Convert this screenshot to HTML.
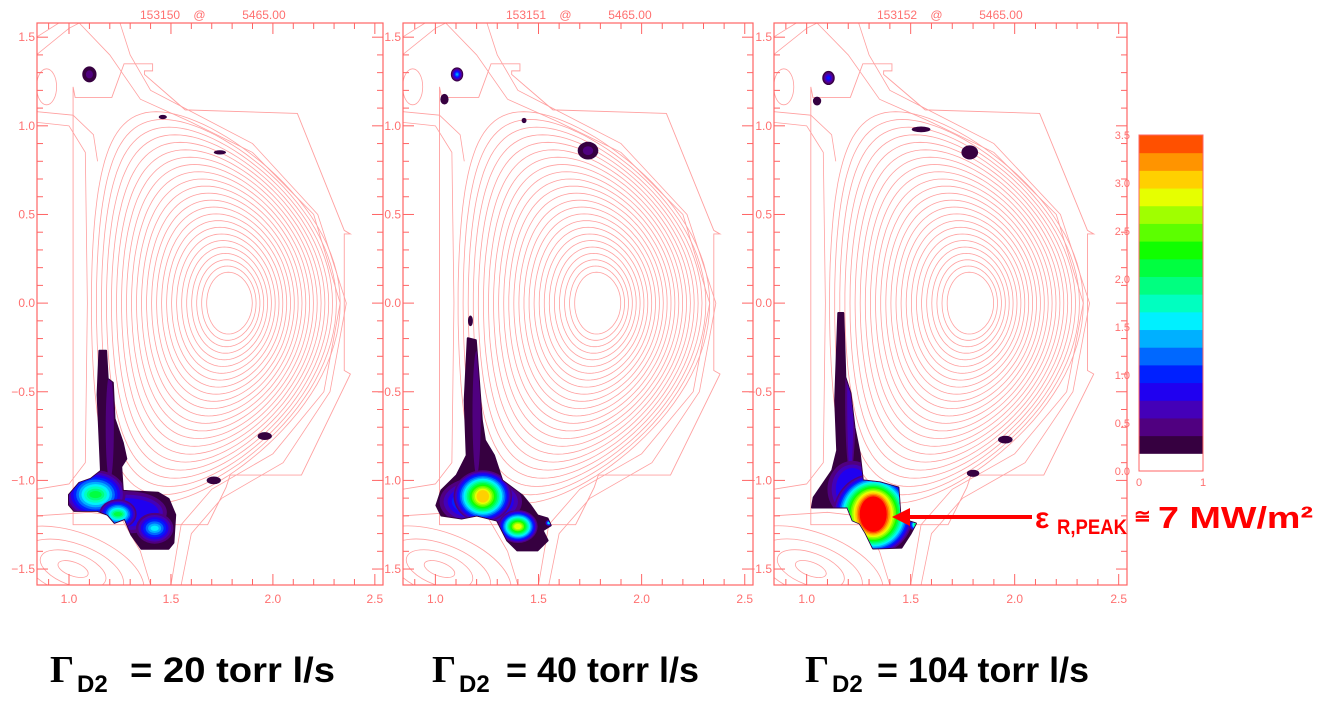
<!DOCTYPE html>
<html><head><meta charset="utf-8"><style>
html,body{margin:0;padding:0;background:#fff;}
svg{display:block;}
</style></head><body>
<svg id="chart" width="1321" height="702" viewBox="0 0 1321 702" xmlns="http://www.w3.org/2000/svg" font-family="Liberation Sans, sans-serif">
<g id="panels"></g>
<g id="cbar"></g>
<g>
  <line x1="1032" y1="517" x2="905" y2="517" stroke="#ff0000" stroke-width="4"/>
  <polygon points="892,517 910,508 910,526" fill="#ff0000"/>
  <text x="1035" y="528" font-size="30" font-weight="bold" fill="#ff0000">ε</text>
  <text x="1057" y="534" font-size="21" font-weight="bold" fill="#ff0000" textLength="70" lengthAdjust="spacingAndGlyphs">R,PEAK</text>
  <text x="1134" y="523" font-size="20" font-weight="bold" fill="#ff0000">≅</text>
  <text x="1158" y="528" font-size="31" font-weight="bold" fill="#ff0000" textLength="155" lengthAdjust="spacingAndGlyphs">7 MW/m²</text>
</g>
<g font-weight="bold" fill="#000">
  <text x="50" y="682" font-size="38" font-family="Liberation Serif, serif">Γ</text>
  <text x="77" y="692" font-size="24">D2</text>
  <text x="130" y="682" font-size="35" textLength="205" lengthAdjust="spacingAndGlyphs">= 20 torr l/s</text>
  <text x="432" y="682" font-size="38" font-family="Liberation Serif, serif">Γ</text>
  <text x="459" y="692" font-size="24">D2</text>
  <text x="506" y="682" font-size="35" textLength="193" lengthAdjust="spacingAndGlyphs">= 40 torr l/s</text>
  <text x="805" y="682" font-size="38" font-family="Liberation Serif, serif">Γ</text>
  <text x="832" y="692" font-size="24">D2</text>
  <text x="877" y="682" font-size="35" textLength="212" lengthAdjust="spacingAndGlyphs">= 104 torr l/s</text>
</g>
</svg>
<script>
const levelColors = ["#ffffff","#360040","#500080","#4400b8","#2000f0","#0020ff","#0068ff","#00b0ff","#00f0ff","#00ffc0","#00ff80","#00ff40","#10ff00","#5cff00","#a0ff00","#e6ff00","#ffd000","#ff9400","#ff5000"];
const cbarTicks = [0.0,0.5,1.0,1.5,2.0,2.5,3.0,3.5];
const shots = ["153150","153151","153152"];
const shotTime = "5465.00";
const xTickLabels = [1.0,1.5,2.0,2.5];
const yTickLabels = [-1.5,-1.0,-0.5,0.0,0.5,1.0,1.5];
const panelBoxes = [[37,383],[403,753],[774,1127]];
const wallR = [1.02,1.03,1.21,1.27,1.41,1.41,1.37,1.37,1.57,2.12,2.35,2.38,2.35,2.35,2.38,2.14,1.79,1.77,1.68,1.02,1.02];
const wallZ = [1.22,1.16,1.16,1.35,1.35,1.31,1.31,1.29,1.09,1.07,0.41,0.39,0.39,-0.38,-0.40,-0.97,-0.97,-1.04,-1.25,-1.25,1.22];
const legR = [
 [1.149,1.182,1.19,1.215,1.223,1.264,1.281,1.256,1.264,1.438,1.488,1.521,1.512,1.488,1.355,1.306,1.273,1.223,1.19,1.14,1.025,1.0,1.0,1.05,1.107,1.157,1.149,1.14],
 [1.157,1.196,1.211,1.225,1.24,1.284,1.324,1.422,1.461,1.495,1.544,1.559,1.52,1.544,1.495,1.397,1.348,1.299,1.201,1.127,1.029,1.005,1.029,1.103,1.152,1.142],
 [1.152,1.176,1.181,1.186,1.211,1.23,1.255,1.27,1.353,1.441,1.451,1.48,1.525,1.5,1.456,1.319,1.284,1.255,1.221,1.196,1.025,1.034,1.123,1.147,1.137]];
const legZ = [
 [-0.269,-0.269,-0.427,-0.449,-0.652,-0.788,-0.878,-0.923,-1.059,-1.07,-1.104,-1.194,-1.352,-1.386,-1.386,-1.307,-1.217,-1.239,-1.194,-1.172,-1.172,-1.138,-1.081,-1.014,-0.991,-0.946,-0.743,-0.517],
 [-0.198,-0.209,-0.435,-0.661,-0.774,-0.859,-1.0,-1.085,-1.141,-1.198,-1.215,-1.254,-1.282,-1.339,-1.395,-1.395,-1.339,-1.226,-1.198,-1.215,-1.198,-1.141,-1.056,-0.972,-0.859,-0.548],
 [-0.056,-0.056,-0.226,-0.418,-0.508,-0.701,-0.847,-1.0,-1.011,-1.04,-1.209,-1.226,-1.243,-1.299,-1.379,-1.384,-1.299,-1.243,-1.226,-1.153,-1.153,-1.096,-0.944,-0.831,-0.548]];
// hotspots: [R, Z, coreRx, coreRy, peakLevel, falloff]
const hotspots = [
 [[1.20,-0.70,0.02,0.30,2,0.01],[1.28,-1.18,0.16,0.08,4,0.02],[1.13,-1.08,0.03,0.02,11,0.013],[1.24,-1.19,0.02,0.012,11,0.008],[1.42,-1.27,0.02,0.015,8,0.012]],
 [[1.20,-0.62,0.02,0.35,2,0.01],[1.22,-1.12,0.14,0.08,5,0.02],[1.23,-1.09,0.03,0.035,16,0.008],[1.40,-1.26,0.018,0.015,15,0.006],[1.55,-1.24,0.005,0.005,8,0.002]],
 [[1.21,-0.55,0.015,0.40,3,0.01],[1.22,-1.05,0.08,0.12,4,0.02],[1.32,-1.19,0.065,0.10,19,0.0075],[1.53,-1.25,0.008,0.008,12,0.003]]];
// islands: [R, Z, rx, ry, peakLevel]
const islands = [
 [[1.10,1.29,0.035,0.045,2],[1.46,1.05,0.02,0.012,1],[1.74,0.85,0.03,0.012,1],[1.96,-0.75,0.035,0.022,1],[1.71,-1.00,0.035,0.022,1]],
 [[1.105,1.29,0.03,0.04,7],[1.044,1.15,0.02,0.03,1],[1.43,1.03,0.012,0.015,1],[1.74,0.86,0.05,0.05,2],[1.17,-0.10,0.012,0.03,1]],
 [[1.105,1.27,0.03,0.04,5],[1.05,1.14,0.02,0.025,1],[1.55,0.98,0.045,0.016,1],[1.784,0.85,0.04,0.04,1],[1.955,-0.77,0.035,0.022,1],[1.80,-0.96,0.03,0.02,1]]];

const NS="http://www.w3.org/2000/svg";
function mk(tag,attrs,parent){const e=document.createElementNS(NS,tag);for(const k in attrs)e.setAttribute(k,attrs[k]);if(parent)parent.appendChild(e);return e;}
const R0=0.843,R1=2.54,Z0=-1.59,Z1=1.58,TOP=23,BOT=585;
const panelsG=document.getElementById('panels');
const axisCol="#ff6464",contCol="#ffa0a0",lblCol="#ff7070";
shots.forEach((shot,p)=>{
  const [L,Rt]=panelBoxes[p];
  const X=r=>L+(r-R0)*(Rt-L)/(R1-R0);
  const Y=z=>TOP+(Z1-z)*(BOT-TOP)/(Z1-Z0);
  const g=mk('g',{},panelsG);
  
  
  const cid='clip'+p;
  const cp=mk('clipPath',{id:cid},g);mk('rect',{x:L,y:TOP,width:Rt-L,height:BOT-TOP},cp);
  const cg=mk('g',{'clip-path':'url(#'+cid+')'},g);
  const N=24;
  for(let i=0;i<N;i++){
    const f=(i+1)/N;
    const a=0.09+0.52*f, Rc=1.79-0.07*f, k=1.55+0.22*f, d=0.05+0.45*f*f;
    let pts=[];
    for(let j=0;j<=120;j++){const t=j/120*2*Math.PI;let kk=k;if(Math.sin(t)<0)kk=k+0.08*f;
      pts.push(X(Rc+a*Math.cos(t+d*Math.sin(t))).toFixed(1)+','+Y(kk*a*Math.sin(t)).toFixed(1));}
    const pl=mk('polyline',{points:pts.join(' '),fill:'none',stroke:contCol,'stroke-width':0.8},cg);
    
    
  }
  const open=[
    [[0.84,1.02],[1.0,1.0],[1.08,0.85],[1.09,0.0],[1.08,-0.9],[1.0,-1.02],[0.84,-1.05]],
    [[0.84,1.08],[1.02,1.06],[1.12,0.95],[1.14,0.8]],
    [[1.05,1.58],[1.2,1.4],[1.35,1.15],[1.6,1.02],[1.9,0.85],[2.2,0.5],[2.33,0.0],[2.25,-0.5],[2.0,-0.85],[1.7,-1.05],[1.55,-1.25],[1.5,-1.59]],
    [[1.25,1.58],[1.3,1.4],[1.4,1.2],[1.6,1.08],[1.9,0.9],[2.22,0.5],[2.36,0.0],[2.28,-0.5],[2.05,-0.9],[1.75,-1.1],[1.6,-1.3],[1.55,-1.59]],
    [[1.25,-1.2],[1.35,-1.4],[1.4,-1.59]],
    [[1.25,-1.2],[1.1,-1.18],[0.84,-1.2]],
    [[0.84,1.5],[0.95,1.58]],[[0.84,1.4],[1.0,1.55],[1.05,1.58]]
  ];
  open.forEach(line=>{const pl=mk('polyline',{points:line.map(q=>X(q[0])+','+Y(q[1])).join(' '),fill:'none',stroke:contCol,'stroke-width':0.8},cg);
    });
  [[0.06,0.03],[0.13,0.07],[0.2,0.11],[0.28,0.16]].forEach(e=>{
    const el=mk('ellipse',{cx:X(1.02),cy:Y(-1.5),rx:e[0]*(Rt-L)/(R1-R0)*1.3,ry:e[1]*(BOT-TOP)/(Z1-Z0)*1.3,fill:'none',stroke:contCol,'stroke-width':0.8,transform:`rotate(20 ${X(1.02)} ${Y(-1.5)})`},cg);
    });
  const ul=mk('ellipse',{cx:X(0.89),cy:Y(1.22),rx:10,ry:18,fill:'none',stroke:contCol,'stroke-width':0.8},cg);
  
  const wall=mk('polyline',{points:wallR.map((r,i)=>X(r)+','+Y(wallZ[i])).join(' '),fill:'none',stroke:contCol,'stroke-width':0.9},cg);
  
  const lid='leg'+p;
  const lcp=mk('clipPath',{id:lid},g);
  const lpts=legR[p].map((r,i)=>X(r).toFixed(1)+','+Y(legZ[p][i]).toFixed(1)).join(' ');
  mk('polygon',{points:lpts},lcp);
  const leg=mk('polygon',{points:lpts,fill:levelColors[1],stroke:levelColors[1],'stroke-width':2,'stroke-linejoin':'round'},g);
  
  const hg=mk('g',{'clip-path':'url(#'+lid+')'},g);
  const sx=(Rt-L)/(R1-R0), sy=(BOT-TOP)/(Z1-Z0);
  hotspots[p].forEach(h=>{
    const [r,z,rx,ry,pk,w]=h;
    for(let k=2;k<=pk;k++){
      const col=k>=levelColors.length?"#ff0000":levelColors[k];
      const el=mk('ellipse',{cx:X(r),cy:Y(z),rx:(rx+(pk-k)*w)*sx,ry:(ry+(pk-k)*w)*sy,fill:col},hg);
      
      
    }
  });
  islands[p].forEach(h=>{
    const [r,z,rx,ry,pk]=h;
    for(let k=1;k<=pk;k++){
      const s=1-(k-1)/pk;
      const el=mk('ellipse',{cx:X(r),cy:Y(z),rx:rx*s*sx,ry:ry*s*sy,fill:levelColors[k]},g);
      
      
    }
  });
  const box=mk('rect',{x:L,y:TOP,width:Rt-L,height:BOT-TOP,fill:'none',stroke:axisCol,'stroke-width':1.2},g);
  
  for(let v=9;v<=25;v++){const r=v/10,major=v%5===0,len=major?11:6;
    mk('line',{x1:X(r),x2:X(r),y1:BOT,y2:BOT-len,stroke:axisCol,'stroke-width':1},g);
    mk('line',{x1:X(r),x2:X(r),y1:TOP,y2:TOP+len,stroke:axisCol,'stroke-width':1},g);}
  for(let v=-15;v<=15;v++){const z=v/10,major=v%5===0,len=major?11:6;
    mk('line',{x1:L,x2:L+len,y1:Y(z),y2:Y(z),stroke:axisCol,'stroke-width':1},g);
    mk('line',{x1:Rt,x2:Rt-len,y1:Y(z),y2:Y(z),stroke:axisCol,'stroke-width':1},g);}
  xTickLabels.forEach(v=>{const t=mk('text',{x:X(v),y:BOT+18,'font-size':12,fill:lblCol,'text-anchor':'middle'},g);t.textContent=v.toFixed(1);
    });
  yTickLabels.forEach(v=>{const t=mk('text',{x:L-2,y:Y(v)+4,'font-size':12,fill:lblCol,'text-anchor':'end'},g);t.textContent=(v<0?'\u2212'+Math.abs(v).toFixed(1):v.toFixed(1));
    });
  const tt=mk('text',{x:L+103,y:19,'font-size':12,fill:lblCol},g);
  tt.textContent=shot+'\u00a0\u00a0\u00a0\u00a0@\u00a0\u00a0\u00a0\u00a0\u00a0\u00a0\u00a0\u00a0\u00a0\u00a0\u00a0'+shotTime;
  
});
const cb=document.getElementById('cbar');
const cbX=1139,cbW=64,cbTop=135,cbBot=471,vmax=3.5;
const cY=v=>cbBot-v/vmax*(cbBot-cbTop);
const bandH=(cbBot-cbTop)/levelColors.length;
levelColors.forEach((c,i)=>{
  const r=mk('rect',{x:cbX,y:cbBot-(i+1)*bandH,width:cbW,height:bandH+0.5,fill:c},cb);
  
  
});
mk('rect',{x:cbX,y:cbTop,width:cbW,height:cbBot-cbTop,fill:'none',stroke:axisCol,'stroke-width':1},cb);
cbarTicks.forEach(v=>{const t=mk('text',{x:cbX-9,y:cY(v)+4,'font-size':11,fill:lblCol,'text-anchor':'end'},cb);t.textContent=v.toFixed(1);
  });
[["0",cbX],["1",cbX+cbW]].forEach(a=>{const t=mk('text',{x:a[1],y:cbBot+15,'font-size':11,fill:lblCol,'text-anchor':'middle'},cb);t.textContent=a[0];
  });
</script>
</body></html>
